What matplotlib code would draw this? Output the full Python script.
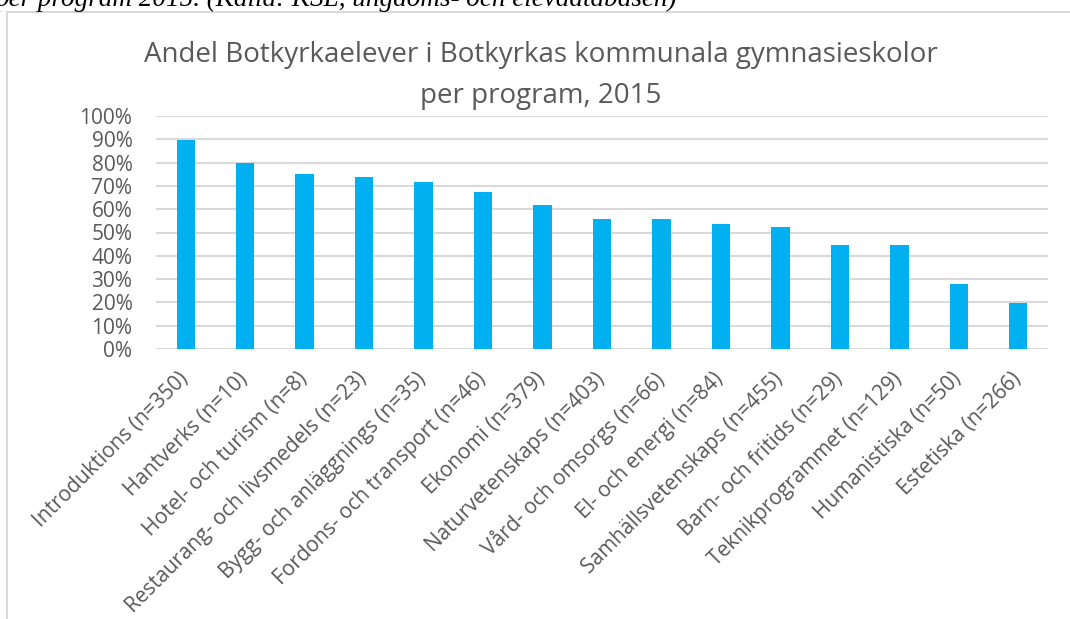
import matplotlib.pyplot as plt
import matplotlib.transforms as mtransforms
from matplotlib.patches import Rectangle
from matplotlib.ticker import PercentFormatter

# data
programs = ["Introduktions (n=350)", "Hantverks (n=10)", "Hotel- och turism (n=8)",
            "Restaurang- och livsmedels (n=23)", "Bygg- och anläggnings (n=35)",
            "Fordons- och transport (n=46)", "Ekonomi (n=379)", "Naturvetenskaps (n=403)",
            "Vård- och omsorgs (n=66)", "El- och energi (n=84)", "Samhällsvetenskaps (n=455)",
            "Barn- och fritids (n=29)", "Teknikprogrammet (n=129)", "Humanistiska (n=50)",
            "Estetiska (n=266)"]
share = [0.897, 0.80, 0.751, 0.738, 0.715, 0.675, 0.618, 0.56, 0.56, 0.535,
         0.525, 0.448, 0.448, 0.279, 0.199]

W, H = 1070, 619
fig = plt.figure(figsize=(W / 100, H / 100), dpi=100)
plt.rcParams['font.family'] = ['Open Sans', 'DejaVu Sans']
grey = '#595959'

# caption cut off by the page crop, as in the source
fig.text(-0.004, 1 - 6 / H, "per program 2015. (Källa: KSL, ungdoms- och elevdatabasen)",
         family='Liberation Serif', style='italic', fontsize=19.5, va='baseline', ha='left')

# chart frame
fig.patches.append(Rectangle((7 / W, -0.1), 1.2, 1 - 12 / H + 0.1, transform=fig.transFigure,
                             fill=False, edgecolor='#d9d9d9', linewidth=1.5))

ax = fig.add_axes([156 / W, 1 - 349 / H, (1048 - 156) / W, (349 - 116) / H])
x = range(len(programs))
ax.bar(x, share, width=0.31, color='#00b0f0', zorder=3)
ax.set_xlim(-0.5, len(programs) - 0.5)
ax.set_ylim(0, 1)
ax.set_yticks([i / 10 for i in range(11)])
ax.yaxis.set_major_formatter(PercentFormatter(1.0, decimals=0))
ax.grid(axis='y', color='#d9d9d9', linewidth=1.5, zorder=0)
for s in ax.spines.values():
    s.set_visible(False)
ax.tick_params(length=0, colors=grey, labelsize=15)
ax.tick_params(axis='y', pad=17)
ax.set_xticks(list(x))
ax.set_xticklabels(programs, rotation=45, ha='right', rotation_mode='anchor')
ax.tick_params(axis='x', pad=14)
shift = mtransforms.ScaledTranslation(-8 / 100, 0, fig.dpi_scale_trans)
for lab in ax.get_xticklabels():
    lab.set_transform(lab.get_transform() + shift)

fig.text(541 / W, 1 - 62 / H, "Andel Botkyrkaelever i Botkyrkas kommunala gymnasieskolor",
         ha='center', va='baseline', fontsize=20, color=grey)
fig.text(541 / W, 1 - 103 / H, "per program, 2015",
         ha='center', va='baseline', fontsize=20, color=grey)

fig.savefig('out.png', dpi=100)
